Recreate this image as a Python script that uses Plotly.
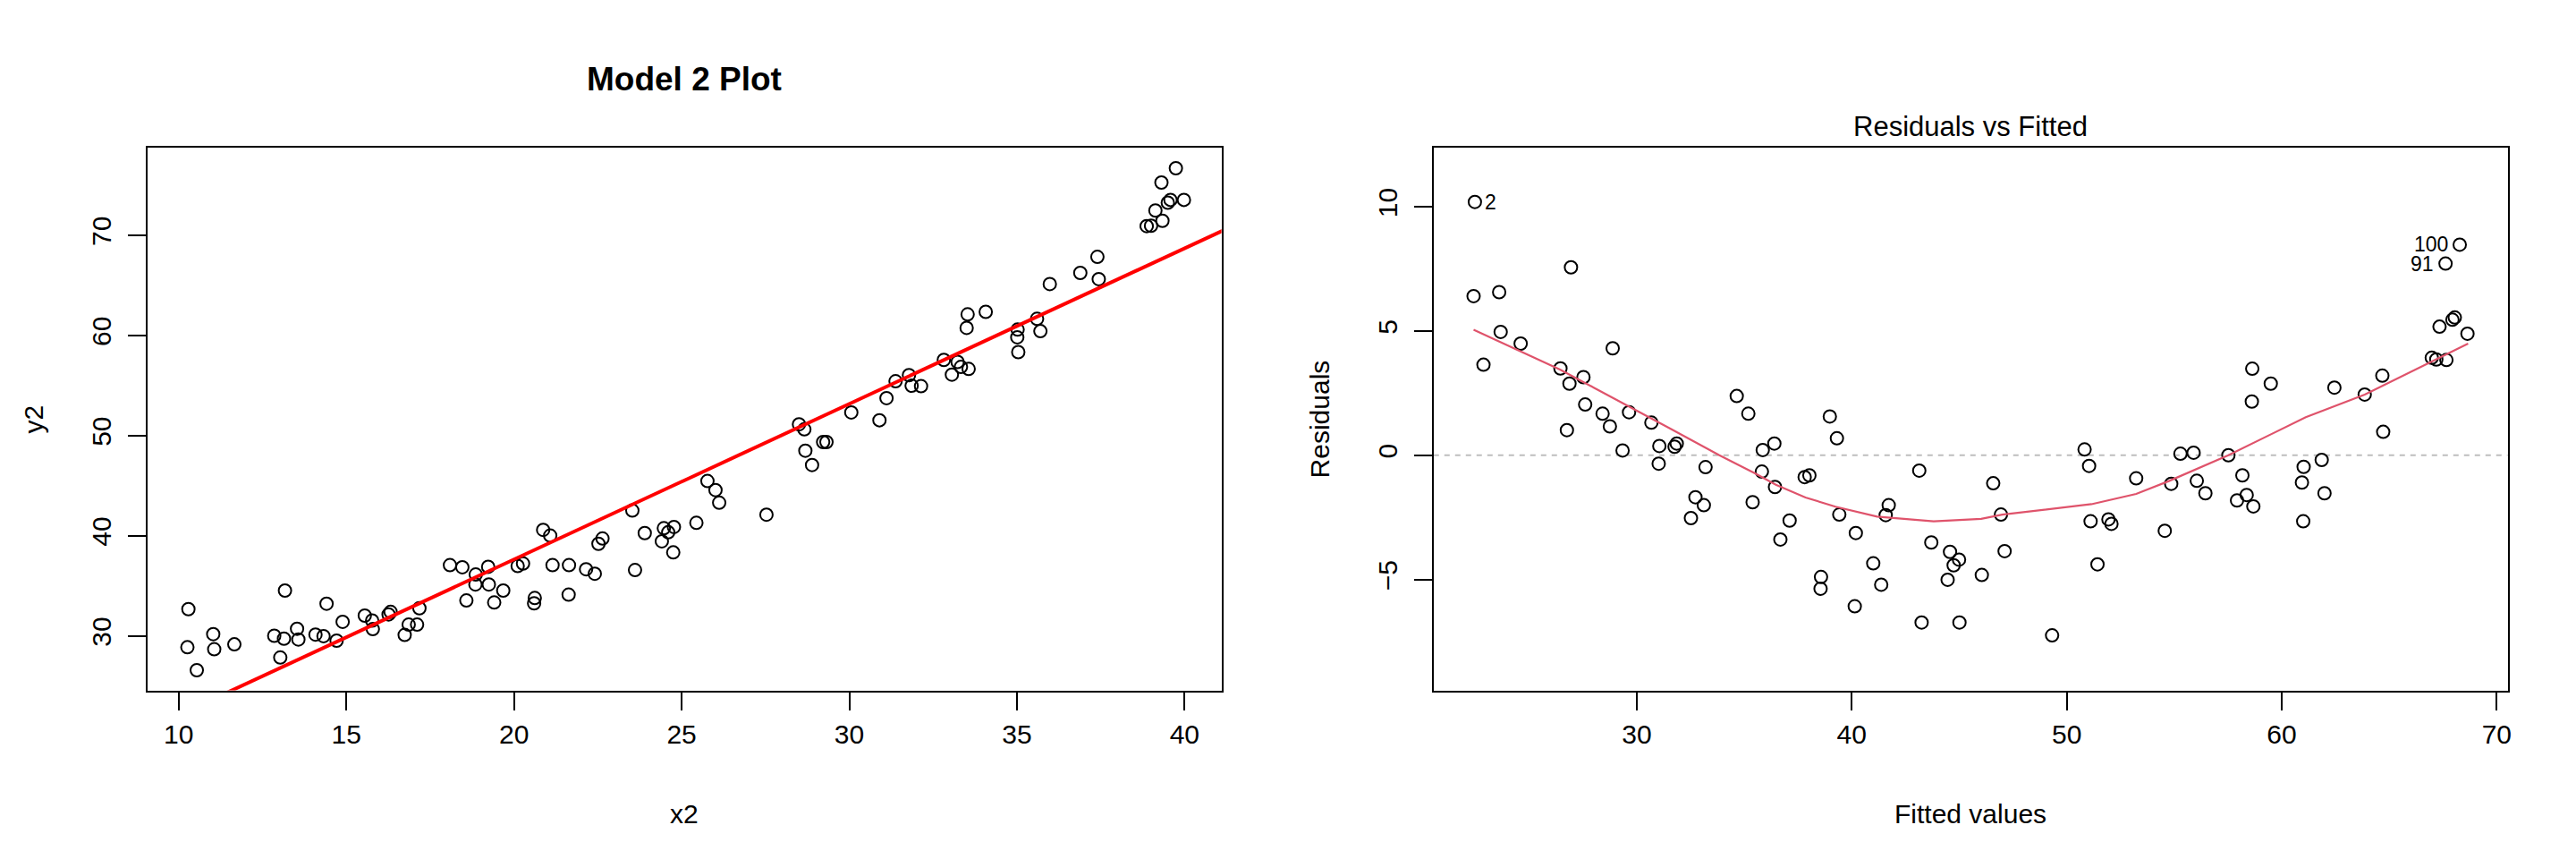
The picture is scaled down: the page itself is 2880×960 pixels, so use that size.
import numpy as np
import plotly.graph_objects as go

# ---------------- data: left panel (Model 2 scatter) ----------------
x2 = [10.29, 10.26, 10.54, 11.03, 11.06, 11.66, 12.85, 13.03, 13.14, 13.17,
      13.53, 13.57, 14.08, 14.32, 14.41, 14.71, 14.89, 15.55, 15.77, 15.79,
      16.26, 16.32, 16.74, 16.86, 17.11, 17.18, 18.09, 18.46, 18.58, 18.86,
      18.85, 19.23, 19.25, 19.41, 19.68, 20.11, 20.27, 20.62, 20.60, 20.87,
      21.08, 21.15, 21.64, 21.63, 22.15, 22.41, 22.52, 22.64, 23.53, 23.61,
      23.90, 24.41, 24.47, 24.60, 24.77, 24.75, 25.44, 25.77, 26.01, 26.12,
      27.53, 28.50, 28.66, 28.69, 28.89, 29.22, 29.32, 30.06, 30.90, 31.11,
      31.38, 31.78, 31.86, 32.14, 32.82, 33.06, 33.23, 33.33, 33.56, 33.53,
      33.50, 34.07, 35.02, 35.01, 35.04, 35.60, 35.70, 35.98, 36.89, 37.40,
      37.44, 38.87, 39.00, 39.13, 39.34, 39.31, 39.50, 39.58, 39.74, 39.98]
y2 = [32.66, 28.85, 26.56, 30.16, 28.65, 29.14, 30.00, 27.83, 29.71, 34.51,
      30.70, 29.63, 30.12, 29.96, 33.20, 29.51, 31.39, 32.01, 31.52, 30.66,
      32.13, 32.38, 30.08, 31.11, 31.11, 32.75, 37.05, 36.84, 33.52, 36.11,
      35.12, 36.89, 35.12, 33.32, 34.51, 36.97, 37.21, 33.77, 33.24, 40.57,
      40.00, 37.05, 37.05, 34.10, 36.64, 36.19, 39.18, 39.71, 42.50, 36.56,
      40.25, 39.43, 40.74, 40.33, 40.86, 38.32, 41.27, 45.45, 44.55, 43.28,
      42.09, 51.11, 50.61, 48.48, 47.05, 49.34, 49.34, 52.30, 51.52, 53.73,
      55.41, 56.02, 54.96, 54.92, 57.54, 56.07, 57.34, 56.84, 56.64, 62.09,
      60.74, 62.34, 60.57, 59.80, 58.32, 61.64, 60.41, 65.12, 66.23, 67.83,
      65.61, 70.90, 70.94, 72.46, 71.43, 75.25, 73.24, 73.52, 76.68, 73.52]

left_xticks = [10, 15, 20, 25, 30, 35, 40]
left_yticks = [30, 40, 50, 60, 70]

# ---------------- data: right panel (Residuals vs Fitted) ----------------
fitted = [22.47, 22.41, 23.60, 23.67, 22.87, 24.60, 26.94, 26.45, 26.87, 27.52,
          27.60, 26.75, 28.41, 28.75, 28.88, 29.64, 29.34, 30.68, 31.05, 31.02,
          31.76, 31.86, 33.20, 32.73, 33.12, 32.52, 34.65, 35.19, 36.40, 35.86,
          35.82, 36.43, 35.39, 37.11, 36.68, 38.98, 39.31, 37.81, 38.03, 39.42,
          40.19, 38.57, 38.55, 41.00, 41.37, 40.14, 41.72, 41.58, 43.14, 43.70,
          44.57, 44.99, 44.74, 44.46, 43.25, 45.01, 46.05, 46.58, 46.94, 47.11,
          49.32, 50.83, 51.04, 51.11, 51.94, 52.08, 51.43, 53.23, 54.56, 54.86,
          55.29, 55.90, 56.05, 56.45, 57.52, 58.17, 58.37, 57.92, 58.68, 58.63,
          58.61, 59.49, 61.02, 60.94, 61.00, 61.86, 61.99, 62.45, 63.86, 64.68,
          64.72, 66.98, 67.19, 67.66, 67.34, 67.94, 68.05, 68.64, 67.62, 68.28]
resid = [10.19, 6.40, 6.56, 4.96, 3.64, 4.49, 7.56, 3.49, 2.88, 3.14,
         2.04, 1.01, 1.67, 1.16, 4.30, 1.73, 0.19, 1.31, 0.37, -0.34,
         0.34, 0.47, -0.48, -1.69, -2.01, -2.53, 2.38, 1.67, 0.47, 0.21,
         -0.66, -1.28, -1.89, -2.63, -3.39, 1.56, 0.68, -0.88, -0.81, -2.39,
         -3.13, -4.90, -5.37, -4.35, -5.21, -6.08, -2.01, -2.41, -0.62, -3.51,
         -3.89, -4.20, -4.43, -5.01, -6.73, -6.73, -4.82, -1.13, -2.39, -3.86,
         -7.25, 0.23, -0.43, -2.66, -2.58, -2.76, -4.39, -0.93, -3.04, -1.15,
         0.06, 0.10, -1.03, -1.53, 0.00, -0.81, -1.60, -1.82, -2.06, 3.48,
         2.16, 2.88, -0.47, -1.10, -2.66, -0.19, -1.53, 2.72, 2.44, 3.20,
         0.94, 3.92, 3.85, 3.83, 5.17, 5.45, 5.54, 4.89, 7.71, 8.47]

# labelled observations: index into fitted/resid, label text, side
label_index = [0, 98, 99]
label_text = ["2", "91", "100"]
label_side = ["right", "left", "left"]

lowess_x = [22.41, 24.60, 26.45, 28.00, 29.64, 31.50, 33.84, 35.50, 36.47, 37.85,
            39.24, 41.18, 43.81, 45.06, 46.02, 47.00, 48.93, 51.15, 53.23, 54.75,
            57.52, 61.12, 63.86, 66.94, 68.67]
lowess_y = [5.05, 4.17, 3.44, 2.72, 1.97, 1.10, 0.00, -0.73, -1.19, -1.70,
            -2.07, -2.47, -2.66, -2.61, -2.56, -2.39, -2.19, -1.97, -1.56, -1.04,
            0.00, 1.53, 2.44, 3.76, 4.49]

right_xticks = [30, 40, 50, 60, 70]
right_yticks = [-5, 0, 5, 10]

# ---------------- figure ----------------
W, H = 2880, 960
FONT = "Liberation Sans, Arial, Helvetica, sans-serif"
fig = go.Figure()

marker_style = dict(symbol="circle-open", size=14, color="black",
                    line=dict(width=2, color="black"))

# left: scatter
fig.add_trace(go.Scatter(
    x=x2, y=y2, mode="markers", xaxis="x", yaxis="y",
    marker=marker_style, showlegend=False, hoverinfo="x+y"))

# left: least squares line (abline of lm(y2 ~ x2))
slope, intercept = np.polyfit(np.array(x2), np.array(y2), 1)
lx = np.array([0.0, 60.0])
fig.add_trace(go.Scatter(
    x=lx, y=intercept + slope * lx, mode="lines", xaxis="x", yaxis="y",
    line=dict(color="#FF0000", width=4), showlegend=False, hoverinfo="skip"))

# right: residuals vs fitted
fig.add_trace(go.Scatter(
    x=fitted, y=resid, mode="markers", xaxis="x2", yaxis="y2",
    marker=marker_style, showlegend=False, hoverinfo="x+y"))

fig.add_trace(go.Scatter(
    x=lowess_x, y=lowess_y, mode="lines", xaxis="x2", yaxis="y2",
    line=dict(color="#DF536B", width=2.2), showlegend=False, hoverinfo="skip"))

for idx, txt, side in zip(label_index, label_text, label_side):
    fig.add_annotation(
        x=fitted[idx], y=resid[idx], xref="x2", yref="y2", text=txt,
        showarrow=False, xanchor="left" if side == "right" else "right",
        yanchor="middle", xshift=9 if side == "right" else -11,
        font=dict(family=FONT, size=23, color="black"))

# geometry (pixel positions of plot frames)
L1, R1 = 157.5, 1359.5
L2, R2 = 1597.0, 2799.5
TOP, BOT = 157.4, 763.5
dom_y = [1 - BOT / H, 1 - TOP / H]

axis_common = dict(showgrid=False, zeroline=False, showline=True, mirror=True,
                   linecolor="black", linewidth=2, ticks="outside", ticklen=20,
                   tickwidth=2, tickcolor="black",
                   tickfont=dict(family=FONT, size=30, color="black"))

fig.update_layout(
    width=W, height=H,
    margin=dict(l=0, r=0, t=0, b=0),
    paper_bgcolor="white", plot_bgcolor="white",
    font=dict(family=FONT, color="black"),
    xaxis=dict(domain=[L1 / W, R1 / W], range=[9.08, 41.1],
               tickvals=left_xticks, ticklabelstandoff=1, anchor="y",
               **axis_common),
    yaxis=dict(domain=dom_y, range=[24.55, 78.7], tickvals=left_yticks,
               tickangle=-90, ticklabelstandoff=7, anchor="x", **axis_common),
    xaxis2=dict(domain=[L2 / W, R2 / W], range=[20.55, 70.51],
                tickvals=right_xticks, ticklabelstandoff=1, anchor="y2",
                **axis_common),
    yaxis2=dict(domain=dom_y, range=[-9.46, 12.36], tickvals=right_yticks,
                tickangle=-90, ticklabelstandoff=7, anchor="x2",
                **axis_common),
)

# reference line at zero in the residual panel
fig.add_shape(type="line", xref="x2 domain", yref="y2", x0=0, x1=1, y0=0, y1=0,
              line=dict(color="#BEBEBE", width=2, dash="6px,6px"), layer="below")

def ann(text, x, y, size=30, angle=0, bold=False):
    fig.add_annotation(text=f"<b>{text}</b>" if bold else text,
                       x=x / W, y=1 - y / H, xref="paper", yref="paper",
                       showarrow=False, textangle=angle,
                       xanchor="center", yanchor="middle",
                       font=dict(family=FONT, size=size, color="black"))

ann("Model 2 Plot", (L1 + R1) / 2, 80, size=37, bold=True)
ann("Residuals vs Fitted", (L2 + R2) / 2, 133, size=31)
ann("x2", (L1 + R1) / 2, 901)
ann("Fitted values", (L2 + R2) / 2, 901)
ann("y2", 29, (TOP + BOT) / 2, angle=-90)
ann("Residuals", 29 + 1440, (TOP + BOT) / 2, angle=-90)

fig.write_html("out.html")
